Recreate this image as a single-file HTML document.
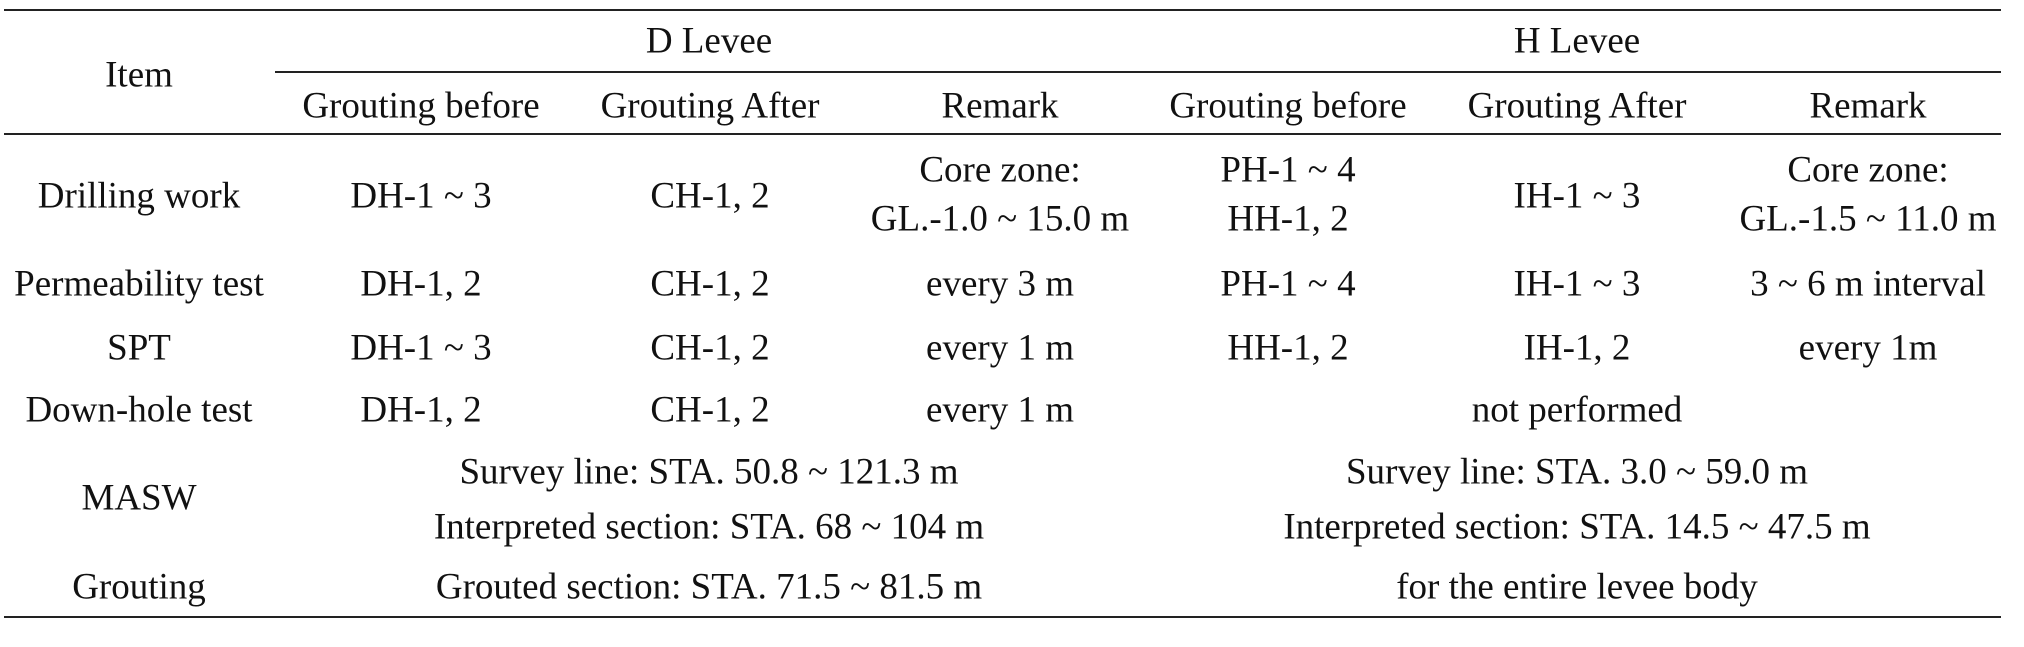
<!DOCTYPE html>
<html><head><meta charset="utf-8"><style>
body{margin:0;width:2024px;height:647px;background:#fff;position:relative;overflow:hidden;font-family:"Liberation Serif",serif;color:#111}
.t{position:absolute;white-space:nowrap;font-size:37px;line-height:37px;transform:translate(-50%,-50%);letter-spacing:0px}
.l{position:absolute;background:#222}
</style></head><body>
<div class="l" style="left:4px;top:9px;width:1997px;height:2px"></div>
<div class="l" style="left:275px;top:71px;width:1726px;height:2px"></div>
<div class="l" style="left:4px;top:133px;width:1997px;height:2px"></div>
<div class="l" style="left:4px;top:616px;width:1997px;height:2px"></div>

<div class="t" style="left:139px;top:75px">Item</div>
<div class="t" style="left:709px;top:41px">D Levee</div>
<div class="t" style="left:1577px;top:41px">H Levee</div>
<div class="t" style="left:421px;top:106px">Grouting before</div>
<div class="t" style="left:710px;top:106px">Grouting After</div>
<div class="t" style="left:1000px;top:106px">Remark</div>
<div class="t" style="left:1288px;top:106px">Grouting before</div>
<div class="t" style="left:1577px;top:106px">Grouting After</div>
<div class="t" style="left:1868px;top:106px">Remark</div>

<div class="t" style="left:139px;top:196px">Drilling work</div>
<div class="t" style="left:421px;top:196px">DH-1 ~ 3</div>
<div class="t" style="left:710px;top:196px">CH-1, 2</div>
<div class="t" style="left:1000px;top:170px">Core zone:</div>
<div class="t" style="left:1000px;top:219px">GL.-1.0 ~ 15.0 m</div>
<div class="t" style="left:1288px;top:170px">PH-1 ~ 4</div>
<div class="t" style="left:1288px;top:219px">HH-1, 2</div>
<div class="t" style="left:1577px;top:196px">IH-1 ~ 3</div>
<div class="t" style="left:1868px;top:170px">Core zone:</div>
<div class="t" style="left:1868px;top:219px">GL.-1.5 ~ 11.0 m</div>

<div class="t" style="left:139px;top:284px">Permeability test</div>
<div class="t" style="left:421px;top:284px">DH-1, 2</div>
<div class="t" style="left:710px;top:284px">CH-1, 2</div>
<div class="t" style="left:1000px;top:284px">every 3 m</div>
<div class="t" style="left:1288px;top:284px">PH-1 ~ 4</div>
<div class="t" style="left:1577px;top:284px">IH-1 ~ 3</div>
<div class="t" style="left:1868px;top:284px">3 ~ 6 m interval</div>

<div class="t" style="left:139px;top:348px">SPT</div>
<div class="t" style="left:421px;top:348px">DH-1 ~ 3</div>
<div class="t" style="left:710px;top:348px">CH-1, 2</div>
<div class="t" style="left:1000px;top:348px">every 1 m</div>
<div class="t" style="left:1288px;top:348px">HH-1, 2</div>
<div class="t" style="left:1577px;top:348px">IH-1, 2</div>
<div class="t" style="left:1868px;top:348px">every 1m</div>

<div class="t" style="left:139px;top:410px">Down-hole test</div>
<div class="t" style="left:421px;top:410px">DH-1, 2</div>
<div class="t" style="left:710px;top:410px">CH-1, 2</div>
<div class="t" style="left:1000px;top:410px">every 1 m</div>
<div class="t" style="left:1577px;top:410px">not performed</div>

<div class="t" style="left:139px;top:498px">MASW</div>
<div class="t" style="left:709px;top:472px">Survey line: STA. 50.8 ~ 121.3 m</div>
<div class="t" style="left:709px;top:527px">Interpreted section: STA. 68 ~ 104 m</div>
<div class="t" style="left:1577px;top:472px">Survey line: STA. 3.0 ~ 59.0 m</div>
<div class="t" style="left:1577px;top:527px">Interpreted section: STA. 14.5 ~ 47.5 m</div>

<div class="t" style="left:139px;top:587px">Grouting</div>
<div class="t" style="left:709px;top:587px">Grouted section: STA. 71.5 ~ 81.5 m</div>
<div class="t" style="left:1577px;top:587px">for the entire levee body</div>
</body></html>
